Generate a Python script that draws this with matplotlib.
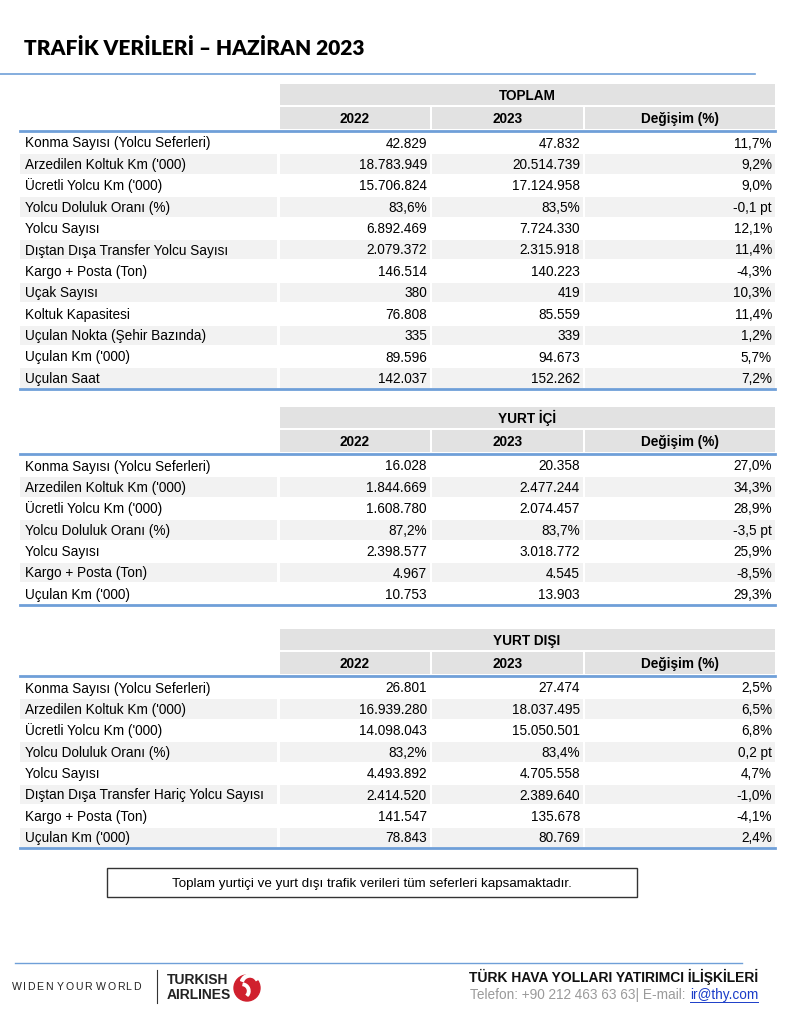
import matplotlib
matplotlib.use("Agg")
import matplotlib.pyplot as plt
from matplotlib.patches import Rectangle, Circle, Wedge

# --- data ---
total_labels = ["Konma Sayısı (Yolcu Seferleri)", "Arzedilen Koltuk Km ('000)", "Ücretli Yolcu Km ('000)",
                "Yolcu Doluluk Oranı (%)", "Yolcu Sayısı", "Dıştan Dışa Transfer Yolcu Sayısı",
                "Kargo + Posta (Ton)", "Uçak Sayısı", "Koltuk Kapasitesi", "Uçulan Nokta (Şehir Bazında)",
                "Uçulan Km ('000)", "Uçulan Saat"]
total_2022 = [42829, 18783949, 15706824, 83.6, 6892469, 2079372, 146514, 380, 76808, 335, 89596, 142037]
total_2023 = [47832, 20514739, 17124958, 83.5, 7724330, 2315918, 140223, 419, 85559, 339, 94673, 152262]
total_change = [11.7, 9.2, 9.0, -0.1, 12.1, 11.4, -4.3, 10.3, 11.4, 1.2, 5.7, 7.2]

domestic_labels = ["Konma Sayısı (Yolcu Seferleri)", "Arzedilen Koltuk Km ('000)", "Ücretli Yolcu Km ('000)",
                   "Yolcu Doluluk Oranı (%)", "Yolcu Sayısı", "Kargo + Posta (Ton)", "Uçulan Km ('000)"]
domestic_2022 = [16028, 1844669, 1608780, 87.2, 2398577, 4967, 10753]
domestic_2023 = [20358, 2477244, 2074457, 83.7, 3018772, 4545, 13903]
domestic_change = [27.0, 34.3, 28.9, -3.5, 25.9, -8.5, 29.3]

intl_labels = ["Konma Sayısı (Yolcu Seferleri)", "Arzedilen Koltuk Km ('000)", "Ücretli Yolcu Km ('000)",
               "Yolcu Doluluk Oranı (%)", "Yolcu Sayısı", "Dıştan Dışa Transfer Hariç Yolcu Sayısı",
               "Kargo + Posta (Ton)", "Uçulan Km ('000)"]
intl_2022 = [26801, 16939280, 14098043, 83.2, 4493892, 2414520, 141547, 78843]
intl_2023 = [27474, 18037495, 15050501, 83.4, 4705558, 2389640, 135678, 80769]
intl_change = [2.5, 6.5, 6.8, 0.2, 4.7, -1.0, -4.1, 2.4]

year_headers = ["2022", "2023", "Değişim (%)"]
PT_ROW = "Yolcu Doluluk Oranı (%)"

BLUE = "#6f9fd8"
HEAD_GRAY = "#e2e2e2"
ROW_GRAY = "#f2f2f2"
FONT = "Liberation Sans"
FS = 9.8
BASE = 4.8  # half cap height in px, used to centre text on a row via its baseline


def fmt_value(v):
    if isinstance(v, float):
        return f"{v:.1f}".replace(".", ",") + "%"
    return f"{v:,}".replace(",", ".")


def fmt_change(v, label):
    s = f"{v:.1f}".replace(".", ",")
    return s + (" pt" if label == PT_ROW else "%")


fig = plt.figure(figsize=(7.88, 10.24), dpi=100)
ax = fig.add_axes([0, 0, 1, 1])
ax.set_xlim(0, 788)
ax.set_ylim(1024, 0)
ax.axis("off")

# title
ax.text(24, 55, "TRAFİK VERİLERİ – HAZİRAN 2023", fontsize=15, fontweight="heavy",
        family="Lato", va="baseline", ha="left")
ax.plot([0, 755], [74, 74], color=BLUE, lw=1.2)

# column layout (left, width)
cols = [(280, 150), (432, 151), (585, 190)]
label_box = (20, 257)
row_h = 21.4


def draw_table(top, title, labels, v22, v23, chg):
    ax.add_patch(Rectangle((280, top), 495, 21, color=HEAD_GRAY, lw=0))
    ax.text(527, top + 11 + BASE, title, ha="center", va="baseline", fontsize=FS, fontweight="bold", family=FONT)
    for (x, w), h in zip(cols, year_headers):
        ax.add_patch(Rectangle((x, top + 23), w, 22, color=HEAD_GRAY, lw=0))
        ax.text(x + w / 2, top + 34.5 + BASE, h, ha="center", va="baseline", fontsize=FS,
                fontweight="bold", family=FONT)
    line_y = top + 46.5
    ax.plot([20, 775], [line_y, line_y], color=BLUE, lw=2)
    y0 = line_y + 1.5
    for i, lab in enumerate(labels):
        yt = y0 + i * row_h
        yb = yt + row_h / 2 + BASE
        if i % 2 == 1:
            ax.add_patch(Rectangle((label_box[0], yt + 1), label_box[1], row_h - 2, color=ROW_GRAY, lw=0))
            for x, w in cols:
                ax.add_patch(Rectangle((x, yt + 1), w, row_h - 2, color=ROW_GRAY, lw=0))
        ax.text(25, yb, lab, ha="left", va="baseline", fontsize=FS, family=FONT)
        vals = [fmt_value(v22[i]), fmt_value(v23[i]), fmt_change(chg[i], lab)]
        for (x, w), s in zip(cols, vals):
            ax.text(x + w - 3, yb, s, ha="right", va="baseline", fontsize=FS, family=FONT)
    bot = y0 + len(labels) * row_h
    ax.plot([20, 775], [bot, bot], color=BLUE, lw=2)


draw_table(84, "TOPLAM", total_labels, total_2022, total_2023, total_change)
draw_table(407, "YURT İÇİ", domestic_labels, domestic_2022, domestic_2023, domestic_change)
draw_table(629, "YURT DIŞI", intl_labels, intl_2022, intl_2023, intl_change)

# note box
ax.add_patch(Rectangle((107, 868), 530, 29, fill=False, edgecolor="#333333", lw=1))
ax.text(372, 882.5 + BASE, "Toplam yurtiçi ve yurt dışı trafik verileri tüm seferleri kapsamaktadır.",
        ha="center", va="baseline", fontsize=9.6, family=FONT)

# footer
ax.plot([15, 742], [963, 963], color=BLUE, lw=1)
fig.canvas.draw()
renderer = fig.canvas.get_renderer()
inv = ax.transData.inverted()
x = 12.0
for ch in "WIDEN YOUR WORLD":
    if ch == " ":
        x += 3.5
        continue
    t = ax.text(x, 990, ch, ha="left", va="baseline", fontsize=7.6, family=FONT, color="#222222")
    bb = t.get_window_extent(renderer)
    x += (bb.x1 - bb.x0) + 1.3
ax.plot([157, 157], [970, 1003], color="#333333", lw=0.8)
ax.text(167, 984, "TURKISH", ha="left", va="baseline", fontsize=10, fontweight="bold", family=FONT,
        color="#222222")
ax.text(167, 999, "AIRLINES", ha="left", va="baseline", fontsize=10, fontweight="bold", family=FONT,
        color="#222222")
ax.add_patch(Circle((247, 988), 13, color="#d0202e"))
ax.add_patch(Wedge((250, 984), 10, 200, 330, width=3, color="white"))
ax.add_patch(Wedge((242, 991), 8, 280, 40, width=2.5, color="white"))

ax.text(758, 982, "TÜRK HAVA YOLLARI YATIRIMCI İLİŞKİLERİ", ha="right", va="baseline",
        fontsize=10, fontweight="bold", family=FONT, color="#111111")
t_mail = ax.text(758, 999, "ir@thy.com", ha="right", va="baseline", fontsize=9.8, family=FONT,
                 color="#1a3cc8")
bb = t_mail.get_window_extent(renderer)
x_left = inv.transform((bb.x0, bb.y0))[0]
x_right = inv.transform((bb.x1, bb.y0))[0]
ax.plot([x_left, x_right], [1001.5, 1001.5], color="#1a3cc8", lw=0.7)
ax.text(x_left, 999, "Telefon: +90 212 463 63 63| E-mail: ", ha="right", va="baseline", fontsize=9.8,
        family=FONT, color="#9a9a9a")

fig.savefig("out.png", dpi=100)
